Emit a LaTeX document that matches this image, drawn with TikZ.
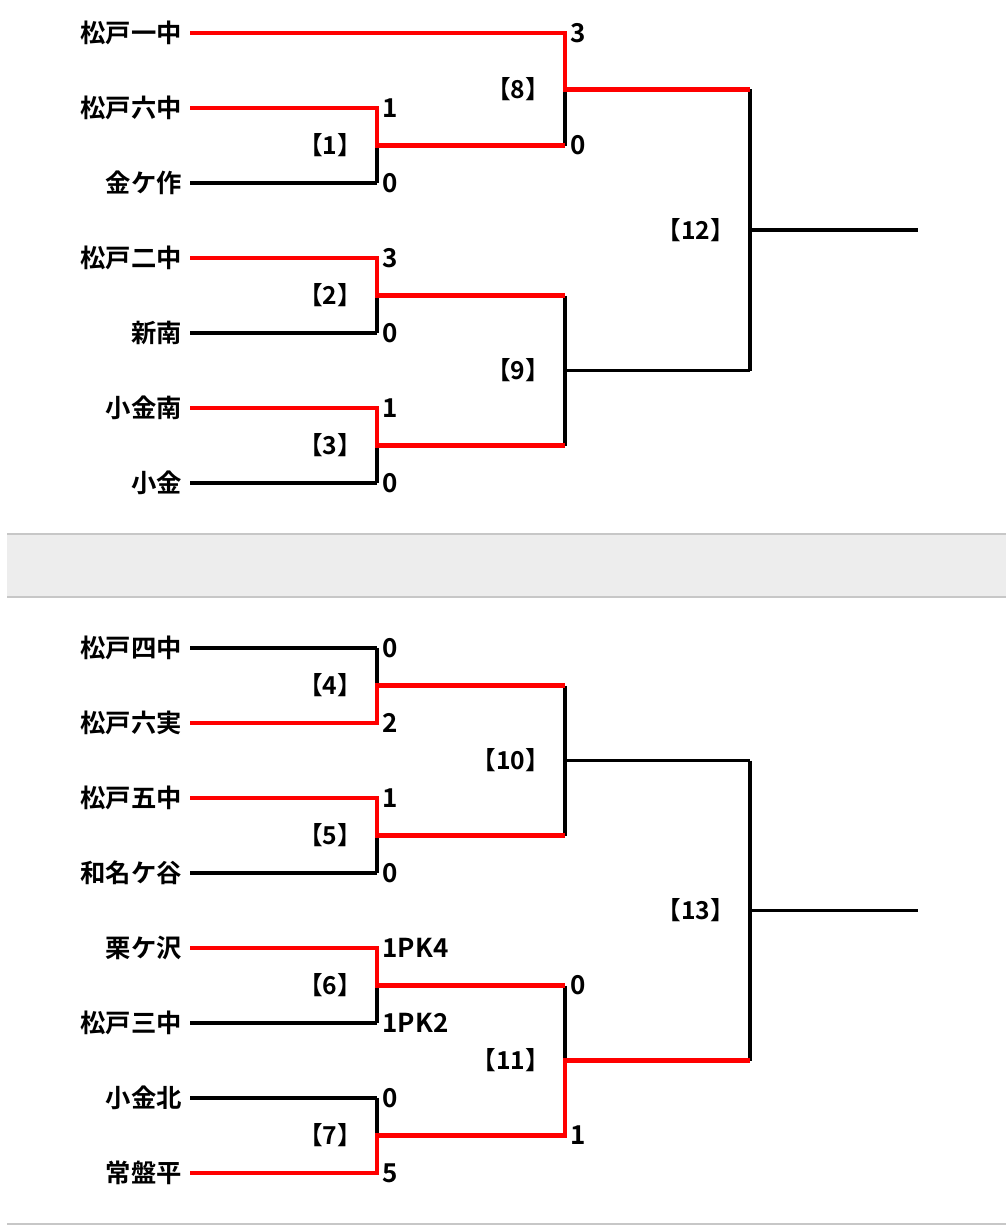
\documentclass[tikz,border=0pt]{standalone}
\usepackage{fontspec}
\setmainfont{Noto Sans CJK JP}[BoldFont={Noto Sans CJK JP Bold}]

\begin{document}
\begin{tikzpicture}[x=0.75pt,y=-0.75pt,
  team/.style={anchor=east,inner xsep=6pt,inner ysep=0pt,font=\bfseries\fontsize{19}{20}\selectfont},
  score/.style={anchor=west,inner xsep=4pt,inner ysep=0pt,font=\bfseries\fontsize{19.5}{20}\selectfont},
  game/.style={anchor=east,inner xsep=11pt,inner ysep=0pt,font=\bfseries\fontsize{18.5}{20}\selectfont},
  lose/.style={draw=black,line width=2.6pt},
  win/.style={draw=red,line width=3.6pt}]
\useasboundingbox (0,0) rectangle (1006,1229);
\fill[black!7] (7,534) rectangle (1006,597);
\draw[black!22,line width=1pt] (7,534) -- (1006,534) (7,597) -- (1006,597) (7,1224) -- (1006,1224);
% games: id / column / top / bottom
\foreach \g/\x/\a/\b in {1/377/108/183, 2/377/258/333, 3/377/408/483, 4/377/648/723,
    5/377/798/873, 6/377/948/1023, 7/377/1098/1173,
    8/565/33/145.5, 9/565/295.5/445.5, 10/565/685.5/835.5, 11/565/985.5/1135.5,
    12/750/89.25/370.5, 13/750/760.5/1060.5} {
  \coordinate (g\g t) at (\x,\a);
  \coordinate (g\g b) at (\x,\b);
  \coordinate (g\g) at (\x,{(\a+\b)/2});
  \node[game] (n\g) at (g\g) {【\g】};
  \draw[lose] (g\g t) -- (g\g b);
}
\coordinate (e12) at (918,229.875);
\coordinate (e13) at (918,910.5);
% teams
\foreach \i/\y/\name/\gx in {1/33/松戸一中/g8t, 2/108/松戸六中/g1t, 3/183/金ケ作/g1b,
    4/258/松戸二中/g2t, 5/333/新南/g2b, 6/408/小金南/g3t, 7/483/小金/g3b,
    8/648/松戸四中/g4t, 9/723/松戸六実/g4b, 10/798/松戸五中/g5t, 11/873/和名ケ谷/g5b,
    12/948/栗ケ沢/g6t, 13/1023/松戸三中/g6b, 14/1098/小金北/g7t, 15/1173/常盤平/g7b} {
  \node[team] (t\i) at (190,\y) {\name};
  \draw[lose] (t\i.east) -- (\gx);
}
\draw[lose] (g1) -- (g8b) (g2) -- (g9t) (g3) -- (g9b) (g4) -- (g10t)
  (g5) -- (g10b) (g6) -- (g11t) (g7) -- (g11b) (g8) -- (g12t) (g9) -- (g12b)
  (g10) -- (g13t) (g11) -- (g13b) (g12) -- (e12) (g13) -- (e13);
% winners
\draw[win] (t1.east) -- (g8t) -- (g8) -- (g12t);
\draw[win] (t2.east) -- (g1t) -- (g1) -- (g8b);
\draw[win] (t4.east) -- (g2t) -- (g2) -- (g9t);
\draw[win] (t6.east) -- (g3t) -- (g3) -- (g9b);
\draw[win] (t9.east) -- (g4b) -- (g4) -- (g10t);
\draw[win] (t10.east) -- (g5t) -- (g5) -- (g10b);
\draw[win] (t12.east) -- (g6t) -- (g6) -- (g11t);
\draw[win] (t15.east) -- (g7b) -- (g7) -- (g11b) -- (g11) -- (g13b);
% scores
\foreach \p/\s in {g1t/1, g1b/0, g2t/3, g2b/0, g3t/1, g3b/0, g4t/0, g4b/2, g5t/1, g5b/0,
    g6t/1PK4, g6b/1PK2, g7t/0, g7b/5, g8t/3, g8b/0, g11t/0, g11b/1}
  \node[score] (s\p) at (\p) {\s};
\end{tikzpicture}
\end{document}
